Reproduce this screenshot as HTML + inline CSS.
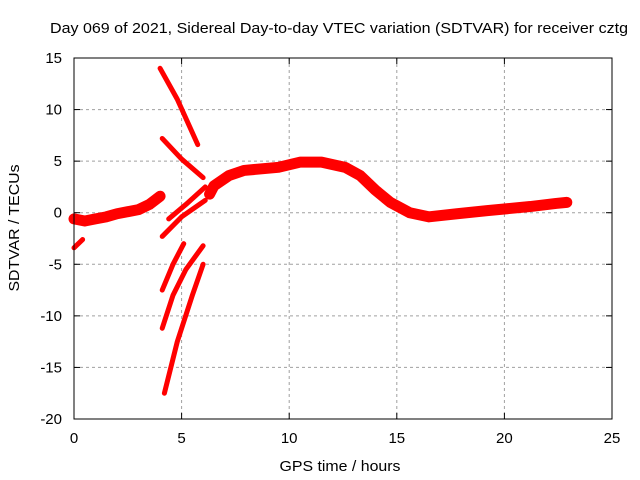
<!DOCTYPE html>
<html><head><meta charset="utf-8"><style>
body{margin:0;background:#fff}
svg{display:block;font-family:"Liberation Sans",sans-serif}
</style></head><body>
<svg id="chart" width="640" height="480">
<rect width="640" height="480" fill="#fff"/>
<text x="339" y="33" font-size="14.5" text-anchor="middle" textLength="578" lengthAdjust="spacingAndGlyphs">Day 069 of 2021, Sidereal Day-to-day VTEC variation (SDTVAR) for receiver cztg</text>
<g id="grid"></g>
<g id="series"></g>
<rect x="74" y="58" width="538" height="361" fill="none" stroke="#000" stroke-width="1"/>
<g id="ticks"></g>
<text x="340" y="471" font-size="14.5" text-anchor="middle" textLength="121" lengthAdjust="spacingAndGlyphs">GPS time / hours</text>
<text transform="translate(19,228) rotate(-90)" font-size="14.5" text-anchor="middle" textLength="127" lengthAdjust="spacingAndGlyphs">SDTVAR / TECUs</text>
</svg>
<script>
const xTicks=[0,5,10,15,20,25];
const yTicks=[15,10,5,0,-5,-10,-15,-20];
// segments: arrays of [hour, value]
const mainLeftH=[0,0.5,1,1.5,2,2.5,3,3.5,4];
const mainLeftV=[-0.6,-0.8,-0.6,-0.4,-0.1,0.1,0.3,0.8,1.6];
const mainRightH=[6.3,6.5,7.2,7.9,9.5,10.5,11.5,12.6,13.3,14,14.7,15.6,16.5,17.8,19.2,21.2,22.4,22.9];
const mainRightV=[1.8,2.6,3.6,4.1,4.4,4.9,4.9,4.4,3.6,2.2,1,0,-0.4,-0.1,0.2,0.6,0.9,1];
const segs=[
 {h:[4.0,4.8,5.75],v:[14,11,6.6],w:5},
 {h:[4.1,5,6.0],v:[7.2,5.2,3.4],w:5},
 {h:[4.4,5.2,6.1],v:[-0.6,0.8,2.5],w:5},
 {h:[4.1,5,6.1],v:[-2.3,-0.4,1.2],w:5},
 {h:[4.1,4.6,5.1],v:[-7.5,-5,-3],w:5},
 {h:[4.1,4.6,5.2,6.0],v:[-11.2,-8,-5.5,-3.2],w:5},
 {h:[4.2,4.8,5.5,6.0],v:[-17.5,-12.5,-8,-5],w:5},
 {h:[0,0.4],v:[-3.4,-2.6],w:5},
 {h:mainLeftH,v:mainLeftV,w:11},
 {h:mainRightH,v:mainRightV,w:11}
];
const X=h=>74+h*538/25, Y=v=>58+(15-v)*361/35;
const NS="http://www.w3.org/2000/svg";
const grid=document.getElementById('grid'),ticks=document.getElementById('ticks'),ser=document.getElementById('series');
function mk(t,a,p){const e=document.createElementNS(NS,t);for(const k in a)e.setAttribute(k,a[k]);p.appendChild(e);return e;}
xTicks.forEach(t=>{const x=X(t);
 if(t>0&&t<25){const g=mk('line',{x1:x,x2:x,y1:58,y2:419,stroke:'#a0a0a0','stroke-dasharray':'3,3'},grid);
 
 }
 mk('line',{x1:x,x2:x,y1:419,y2:413,stroke:'#000'},ticks);mk('line',{x1:x,x2:x,y1:58,y2:64,stroke:'#000'},ticks);
 const l=mk('text',{x:x,y:443,'font-size':15,'text-anchor':'middle'},ticks);l.textContent=t;
 
 });
yTicks.forEach(t=>{const y=Y(t);
 if(t<15&&t>-20){const g=mk('line',{x1:74,x2:612,y1:y,y2:y,stroke:'#a0a0a0','stroke-dasharray':'3,3'},grid);
 
 }
 mk('line',{x1:74,x2:80,y1:y,y2:y,stroke:'#000'},ticks);mk('line',{x1:612,x2:606,y1:y,y2:y,stroke:'#000'},ticks);
 const l=mk('text',{x:62,y:y+5,'font-size':15,'text-anchor':'end'},ticks);l.textContent=t;
 
 });
segs.forEach(s=>{const pts=s.h.map((h,i)=>X(h)+','+Y(s.v[i])).join(' ');
 const p=mk('polyline',{points:pts,fill:'none',stroke:'#ff0000','stroke-width':s.w,'stroke-linejoin':'round','stroke-linecap':'round'},ser);
 
 });
</script>
</body></html>
